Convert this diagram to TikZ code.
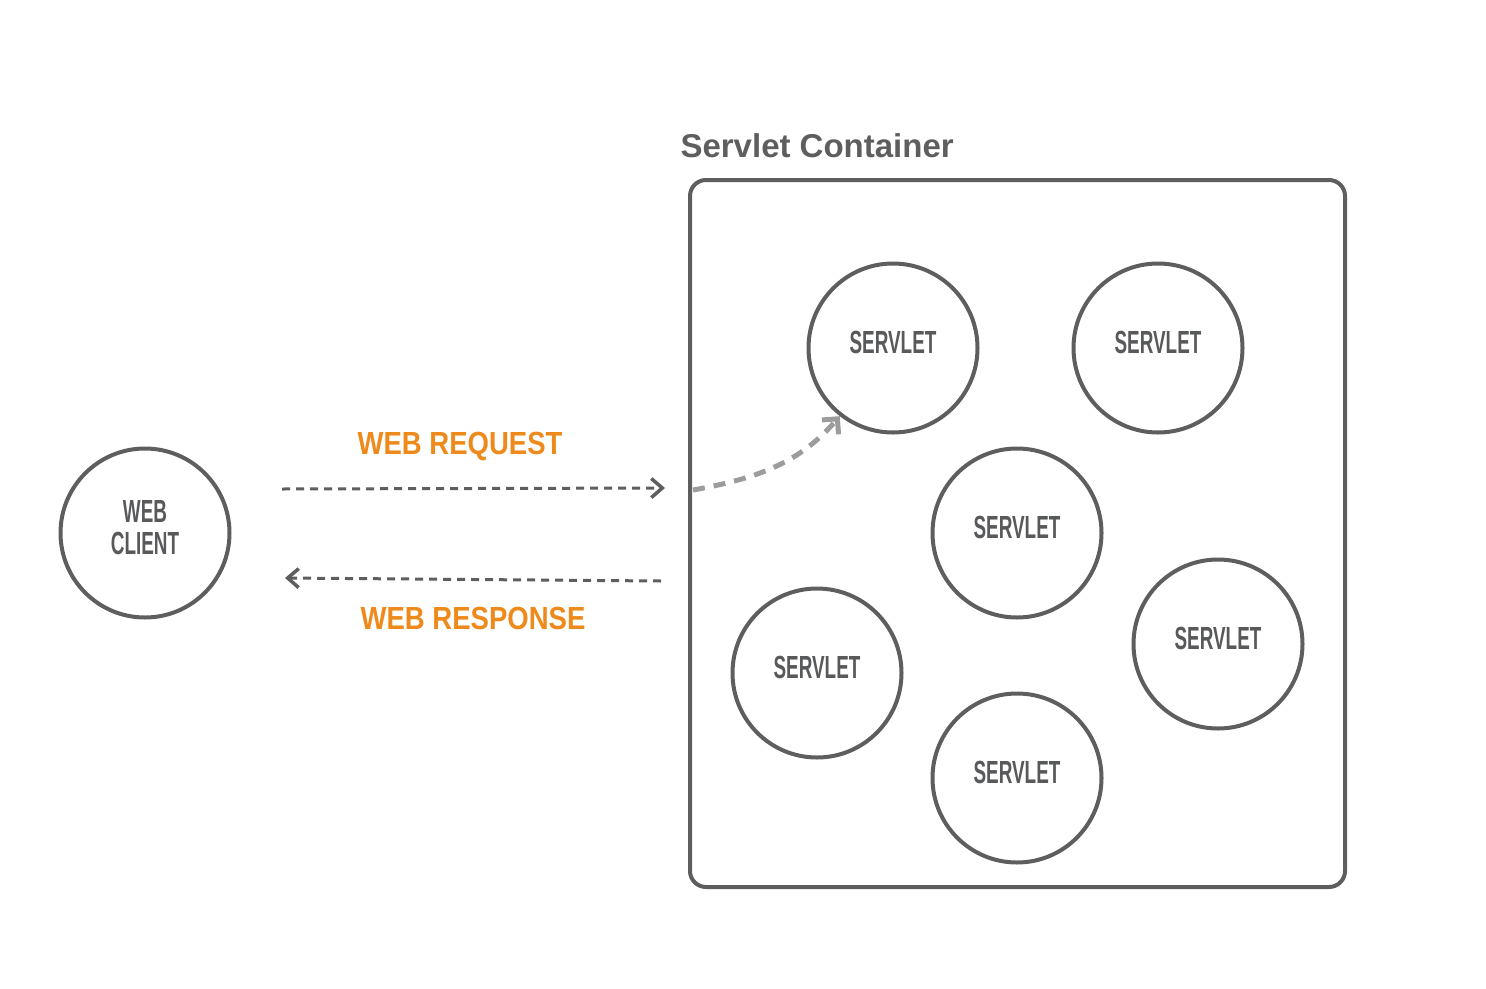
\documentclass[tikz,border=0pt]{standalone}
\usepackage{fontspec}
\setmainfont{Liberation Sans}
\newfontfamily\condfont[FakeStretch=0.59]{Liberation Sans}
\newfontfamily\labfont[FakeStretch=0.86]{Liberation Sans}
\usetikzlibrary{arrows.meta}
\definecolor{dk}{HTML}{5E5E5E}
\definecolor{txt}{HTML}{58595B}
\definecolor{org}{HTML}{EE8A1C}
\definecolor{lg}{HTML}{9C9C9C}
\tikzset{
  ball/.style={circle, draw=dk, line width=4pt, minimum size=169pt, inner sep=0pt,
    font=\condfont\bfseries\fontsize{32}{32}\selectfont, text=txt, align=center,
    text depth=12pt},
  box/.style={draw=dk, line width=4pt, rounded corners=16pt},
  lbl/.style={font=\labfont\bfseries\fontsize{32}{32}\selectfont, text=org},
  flow/.style={draw=dk, line width=3pt, dash pattern=on 8pt off 6pt,
    -{Straight Barb[length=11pt,width=19pt,line width=3.5pt]}},
  call/.style={draw=lg, line width=5pt, dash pattern=on 12pt off 9pt,
    -{Straight Barb[length=11pt,width=22pt,line width=5pt]}}
}
\begin{document}
\begin{tikzpicture}[x=1pt,y=-1pt]
\useasboundingbox (0,0) rectangle (1486,988);
\draw[box] (690,180) rectangle (1345,887);
\node[anchor=west, font=\bfseries\fontsize{33}{33}\selectfont, text=dk] (title) at (677,146) {Servlet Container};
\node[ball] (client) at (145,533) {WEB\\CLIENT};
\node[ball] (s1) at (893,348) {SERVLET};
\node[ball] (s2) at (1158,348) {SERVLET};
\node[ball] (s3) at (1017,533) {SERVLET};
\node[ball] (s4) at (1218,644) {SERVLET};
\node[ball] (s5) at (817,673) {SERVLET};
\node[ball] (s6) at (1017,778) {SERVLET};
\coordinate (reqA) at (282,489);
\coordinate (reqB) at (665,488);
\coordinate (resA) at (661,581);
\coordinate (resB) at (285,578);
\coordinate (callA) at (693,490);
\node[lbl] (req) at (460,446) {WEB REQUEST};
\node[lbl] (res) at (473,618) {WEB RESPONSE};
\draw[flow] (reqA) -- (reqB);
\draw[flow] (resA) -- (resB);
\draw[call] (callA) .. controls (760,478) and (800,462) .. (s1.232);
\end{tikzpicture}
\end{document}
